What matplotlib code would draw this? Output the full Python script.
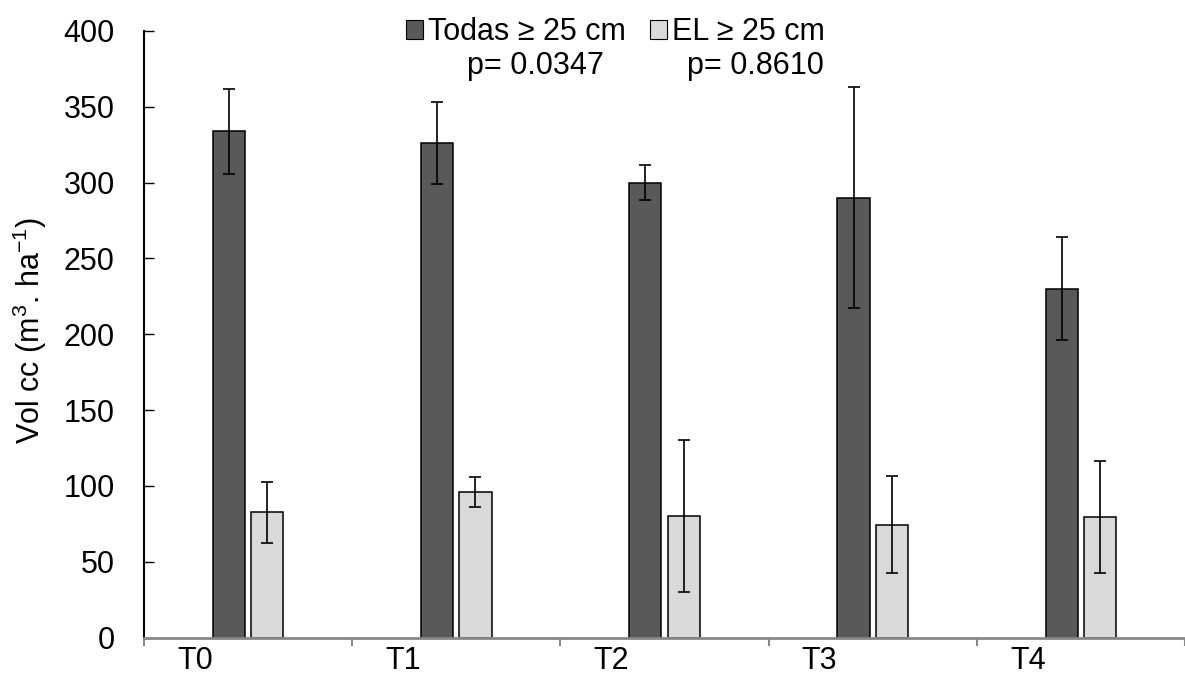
import matplotlib
matplotlib.use("Agg")
import matplotlib.pyplot as plt
import matplotlib.patches as patches
import numpy as np

plt.rcParams['font.family'] = ['Liberation Sans', 'DejaVu Sans']
plt.rcParams['mathtext.default'] = 'regular'

categories = ["T0", "T1", "T2", "T3", "T4"]
todas = [334, 326, 300, 290, 230]
todas_err = [28, 27, 11.5, 73, 34]
el = [82.5, 96, 80, 74.5, 79.5]
el_err = [20, 10, 50, 32, 37]
p_values = ["p= 0.0347", "p= 0.8610"]
labels = ["Todas ≥ 25 cm", "EL ≥ 25 cm"]

dark = "#595959"
light = "#d9d9d9"
axis_grey = "#898989"

fig = plt.figure(figsize=(11.85, 6.79), dpi=100)
ax = fig.add_axes([144 / 1185, 1 - 637.5 / 679, 1 - 144 / 1185, (637.5 - 31) / 679])

x = np.arange(len(categories))
w = 0.155
err_kw = dict(ecolor="black", elinewidth=1.2, capsize=4.5, capthick=1.2)
ax.bar(x - 0.092, todas, w, yerr=todas_err, color=dark, edgecolor="black",
       linewidth=1.1, error_kw=err_kw, label=labels[0], zorder=2)
ax.bar(x + 0.092, el, w, yerr=el_err, color=light, edgecolor="black",
       linewidth=1.1, error_kw=err_kw, label=labels[1], zorder=2)

ax.set_xlim(-0.5, 4.47)
ax.set_ylim(0, 400)
ax.set_yticks(np.arange(0, 401, 50))
ax.tick_params(axis="y", direction="in", length=7, width=1, labelsize=22, pad=21)

# category boundaries get the tick marks, labels sit left of the bars
ax.set_xticks(np.arange(len(categories) + 1) - 0.5, minor=True)
ax.set_xticks(x - 0.255)
ax.set_xticklabels(categories)
ax.tick_params(axis="x", which="major", length=0, labelsize=22, pad=6)
ax.tick_params(axis="x", which="minor", direction="out", length=6, width=1.5, color=axis_grey)

for s in ["top", "right"]:
    ax.spines[s].set_visible(False)
ax.spines["left"].set_linewidth(1.5)
ax.spines["left"].set_color("black")
ax.spines["bottom"].set_linewidth(2)
ax.spines["bottom"].set_color(axis_grey)
ax.spines["bottom"].set_zorder(3)

fig.text(30 / 1185, 1 - 331 / 679, "Vol cc (m$^{3}$. ha$^{-1}$)", rotation=90,
         ha="center", va="center", fontsize=22)

handles = [patches.Rectangle((0, 0), 1, 1, facecolor=dark, edgecolor="black", linewidth=0.8),
           patches.Rectangle((0, 0), 1, 1, facecolor=light, edgecolor="black", linewidth=0.8)]
fig.legend(handles, labels, loc="center", bbox_to_anchor=(615.5 / 1185, 1 - 32 / 679),
           ncol=2, frameon=False, fontsize=22, handlelength=0.56, handleheight=0.56,
           handletextpad=0.15, columnspacing=0.8, borderpad=0, borderaxespad=0)

fig.text(535 / 1185, 1 - 66 / 679, p_values[0], ha="center", va="center", fontsize=22)
fig.text(755 / 1185, 1 - 66 / 679, p_values[1], ha="center", va="center", fontsize=22)

fig.savefig("out.png", dpi=100)
